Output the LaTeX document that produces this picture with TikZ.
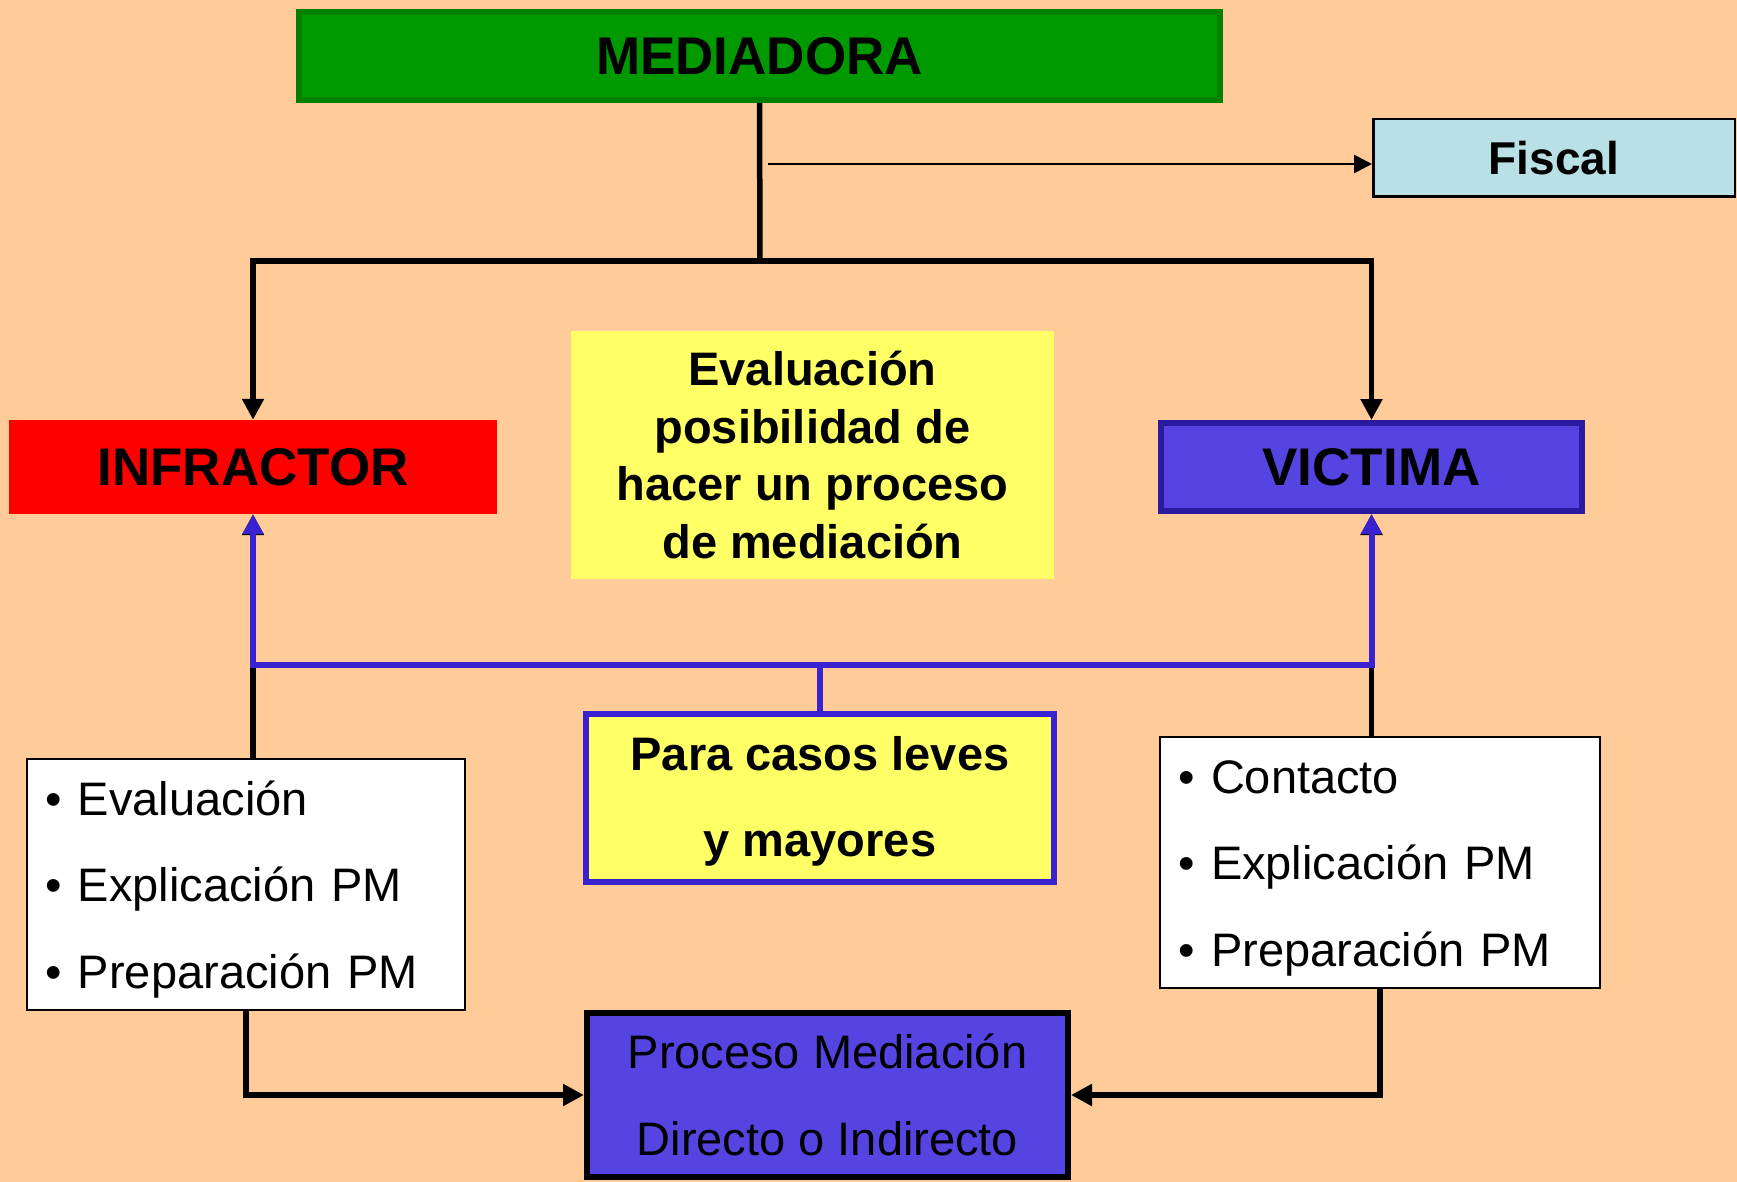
\documentclass[tikz,border=0pt]{standalone}
\usepackage{fontspec}
\setmainfont{Liberation Sans}
\usetikzlibrary{arrows.meta}
\definecolor{bg}{HTML}{FFCC99}
\definecolor{medfill}{HTML}{009900}
\definecolor{meddraw}{HTML}{007F00}
\definecolor{fisfill}{HTML}{B9E0E4}
\definecolor{vicfill}{HTML}{5544E2}
\definecolor{vicdraw}{HTML}{2A1AA0}
\definecolor{yel}{HTML}{FFFF66}
\definecolor{bline}{HTML}{3A22D0}
\newcommand\mybul{\makebox[33pt][l]{•}}
\tikzset{
  box/.style={inner sep=0pt, align=center, line join=miter},
  conn/.style={line width=5.5pt, line join=miter},
  arr/.style={conn, -{Triangle[length=21pt,width=21pt]}},
  barr/.style={line width=6pt, bline, line join=miter},
  bigbold/.style={font=\fontsize{53}{60}\selectfont\bfseries},
  midbold/.style={font=\fontsize{47}{57.5}\selectfont\bfseries},
  listtext/.style={font=\fontsize{47}{86.4}\selectfont},
}
\begin{document}
\begin{tikzpicture}[x=1pt,y=-1pt]
\fill[bg] (0,0) rectangle (1737,1182);
\useasboundingbox (0,0) rectangle (1737,1182);

% nodes
\node[box, bigbold, fill=medfill, draw=meddraw, line width=6pt,
      minimum width=921pt, minimum height=88pt] (med) at (759.5,56) {MEDIADORA};
\node[box, font=\fontsize{46}{52}\selectfont\bfseries, fill=fisfill, draw=black, line width=2.5pt,
      minimum width=361.5pt, minimum height=77.5pt] (fis) at (1554,158) {Fiscal};
\node[box, bigbold, fill=red,
      minimum width=488pt, minimum height=94pt] (infr) at (253,467) {INFRACTOR};
\node[box, bigbold, fill=vicfill, draw=vicdraw, line width=6pt,
      minimum width=421pt, minimum height=88pt] (vic) at (1371.5,467) {VICTIMA};
\node[box, midbold, fill=yel,
      minimum width=483pt, minimum height=248pt] (eval) at (812.5,455)
      {Evaluación\\posibilidad de\\hacer un proceso\\de mediación};
\node[box, font=\fontsize{47}{86.4}\selectfont\bfseries, fill=yel, draw=bline, line width=6pt,
      minimum width=468pt, minimum height=168pt] (para) at (820,798)
      {\rule{0pt}{41pt}Para casos leves\\y mayores};
\node[box, listtext, fill=white, draw=black, line width=2pt, align=left,
      inner xsep=18pt, inner ysep=0pt, text width=402pt,
      minimum height=251pt] (lb) at (246,884.5)
      {\rule{0pt}{44pt}\mybul Evaluación\\\mybul Explicación PM\\\mybul Preparación PM};
\node[box, listtext, fill=white, draw=black, line width=2pt, align=left,
      inner xsep=18pt, inner ysep=0pt, text width=404pt,
      minimum height=251pt] (rb) at (1380,862.5)
      {\rule{0pt}{44pt}\mybul Contacto\\\mybul Explicación PM\\\mybul Preparación PM};
\node[box, listtext, fill=vicfill, draw=black, line width=6pt,
      minimum width=481pt, minimum height=164pt] (proc) at (827.5,1095)
      {Proceso Mediación\\Directo o Indirecto};

% connectors from MEDIADORA
\coordinate (j) at (760,261);
\draw[conn] (med.south) -- (j);
\draw[arr] (j) -| (infr.north);
\draw[arr] (j) -| (vic.north);
\coordinate (fs) at (768,164);
\draw[line width=2.5pt, -{Triangle[length=18pt,width=18pt]}] (fs) -- (fs -| fis.west);

% black connectors from the lists
\draw[arr] (infr.south |- lb.north) -- (infr.south);
\draw[arr] (vic.south |- rb.north) -- (vic.south);

% blue connectors from Para casos
\coordinate (bj) at (820,665);
\draw[barr] (para.north) -- (bj);
\draw[barr, {Triangle[length=20pt,width=20pt]}-{Triangle[length=20pt,width=20pt]}]
  (infr.south) -- (infr.south |- bj) -- (vic.south |- bj) -- (vic.south);

% to Proceso
\draw[arr] (lb.south) |- (proc.west);
\draw[arr] (rb.south) |- (proc.east);
\end{tikzpicture}
\end{document}
